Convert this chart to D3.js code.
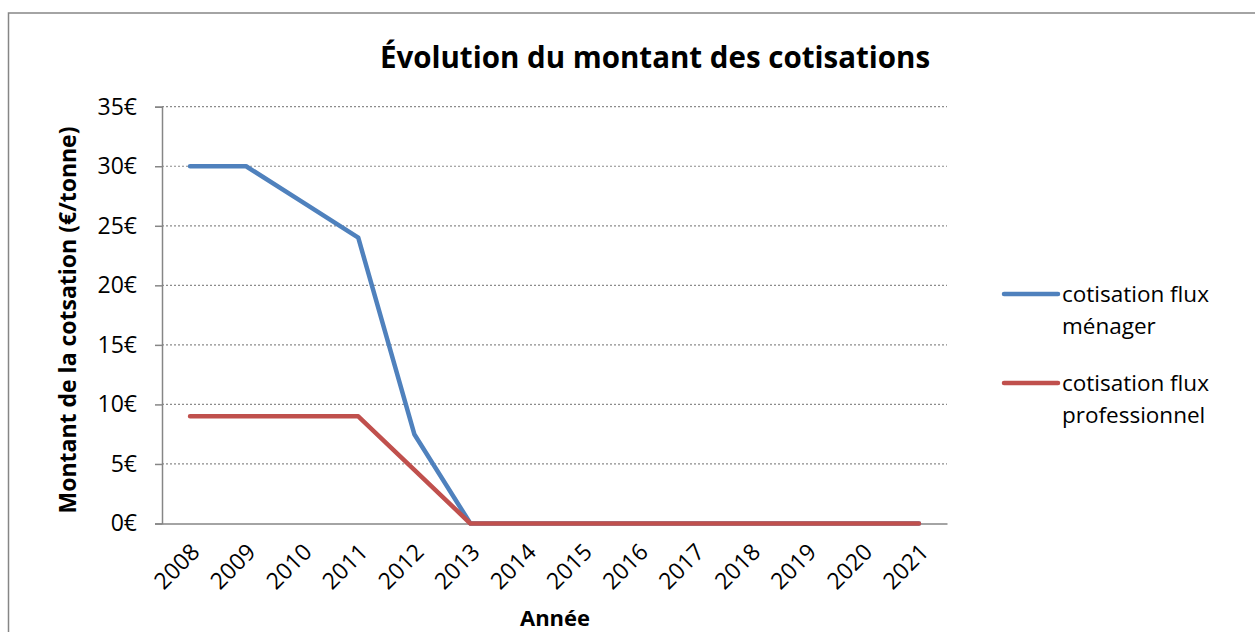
<!DOCTYPE html>
<html><head><meta charset="utf-8">
<script src="https://cdn.jsdelivr.net/npm/d3@7"></script>
<style>body{margin:0;background:#fff;}svg{display:block;font-family:"Open Sans","Noto Sans",sans-serif;}</style>
</head><body>
<svg id="c" width="1255" height="632"></svg>
<script>
const years = ["2008","2009","2010","2011","2012","2013","2014","2015","2016","2017","2018","2019","2020","2021"];
const menager = [30,30,27,24,7.5,0,0,0,0,0,0,0,0,0];
const professionnel = [9,9,9,9,4.5,0,0,0,0,0,0,0,0,0];
const yTicks = [0,5,10,15,20,25,30,35];
const seriesNames = ["cotisation flux ménager","cotisation flux professionnel"];
const colors = ["#4f81bd","#c0504d"];

const svg = d3.select("#c");
svg.append("rect").attr("x",8.5).attr("y",13).attr("width",1260).attr("height",640)
  .attr("fill","#fff").attr("stroke","#868686").attr("stroke-width",1.5);

const L=162, R=947, T=106.7, B=523.5;
const x = d3.scaleBand().domain(years).range([L,R]);
const y = d3.scaleLinear().domain([0,35]).range([B,T]);

// gridlines
svg.append("g").selectAll("line").data(yTicks.filter(d=>d>0)).join("line")
  .attr("x1",L).attr("x2",R).attr("y1",d=>y(d)).attr("y2",d=>y(d))
  .attr("stroke","#8c8c8c").attr("stroke-width",1.2).attr("stroke-dasharray","2,2");

// y axis
const ya = svg.append("g").attr("transform",`translate(${L},0)`)
  .call(d3.axisLeft(y).tickValues(yTicks).tickFormat(d=>d+"€").tickSize(7).tickPadding(18));
ya.select(".domain").attr("stroke","#868686").attr("stroke-width",1.5);
ya.selectAll(".tick line").attr("stroke","#868686").attr("stroke-width",1.5);
ya.selectAll("text").attr("fill","#000").style("font-size","23px").style("font-family","'Open Sans'");

// x axis
const xa = svg.append("g").attr("transform",`translate(0,${B})`)
  .call(d3.axisBottom(x).tickSize(0).tickSizeOuter(0));
xa.select(".domain").attr("stroke","#868686").attr("stroke-width",1.5);
xa.selectAll("text").attr("fill","#000").style("font-size","23px").style("font-family","'Open Sans'")
  .attr("text-anchor","end").attr("dy",0).attr("y",0)
  .attr("transform","translate(11,30) rotate(-45)");

// lines
const line = d3.line().x((d,i)=>x(years[i])+x.bandwidth()/2).y(d=>y(d));
[menager, professionnel].forEach((s,k)=>{
  svg.append("path").datum(s).attr("d",line).attr("fill","none")
    .attr("stroke",colors[k]).attr("stroke-width",4.5).attr("stroke-linecap","round").attr("stroke-linejoin","round");
});

// titles
svg.append("text").attr("x",655).attr("y",68).attr("text-anchor","middle")
  .attr("font-size",29.5).attr("font-weight","bold").text("Évolution du montant des cotisations");
svg.append("text").attr("transform","translate(76,320) rotate(-90)").attr("text-anchor","middle")
  .attr("font-size",23).attr("font-weight","bold").text("Montant de la cotsation (€/tonne)");
svg.append("text").attr("x",555).attr("y",626).attr("text-anchor","middle")
  .attr("font-size",22).attr("font-weight","bold").text("Année");

// legend
const leg = [{y:294, l1:"cotisation flux", l2:"ménager"},{y:383, l1:"cotisation flux", l2:"professionnel"}];
leg.forEach((g,k)=>{
  svg.append("line").attr("x1",1004).attr("x2",1058).attr("y1",g.y).attr("y2",g.y)
    .attr("stroke",colors[k]).attr("stroke-width",4.5).attr("stroke-linecap","round");
  svg.append("text").attr("x",1062).attr("y",g.y+8).attr("font-size",22.5).text(g.l1);
  svg.append("text").attr("x",1062).attr("y",g.y+39.5).attr("font-size",22.5).text(g.l2);
});
</script>
</body></html>
